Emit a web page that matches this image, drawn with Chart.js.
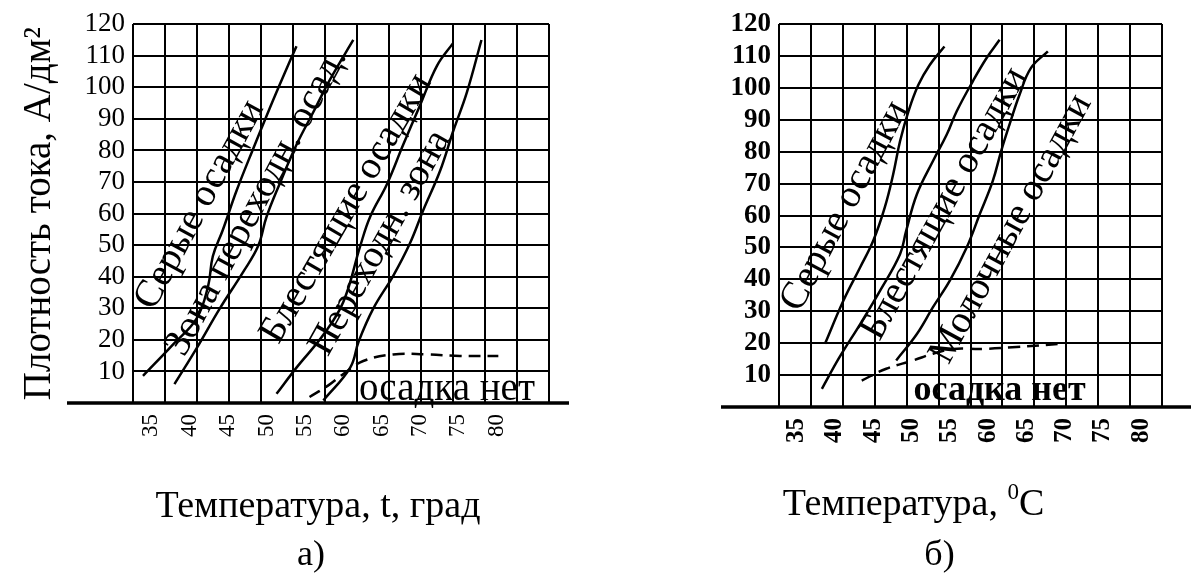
<!DOCTYPE html>
<html>
<head>
<meta charset="utf-8">
<script src="https://cdn.jsdelivr.net/npm/chart.js@4"></script>
<style>
  html, body { margin: 0; padding: 0; background: #fff; }
  #wrap { position: relative; width: 1191px; height: 573px; }
  canvas { position: absolute; top: 0; }
  #chartA { left: 0; }
  #chartB { left: 595px; }
</style>
</head>
<body>
<div id="wrap">
  <canvas id="chartA" width="595" height="573"></canvas>
  <canvas id="chartB" width="596" height="573"></canvas>
</div>
<script>
// tick labels
const xTicks = [35, 40, 45, 50, 55, 60, 65, 70, 75, 80];
const yTicks = [10, 20, 30, 40, 50, 60, 70, 80, 90, 100, 110, 120];

// chart a) - temperature (t) and current density (D) along each boundary
const aGreyT = [33.9, 37.8, 40.9, 42.4, 43.0, 44.3, 46.1, 48.3, 50.4, 52.2, 53.9];
const aGreyD = [8.6, 18.5, 26.8, 37.2, 46.5, 54.8, 67.3, 80.8, 93.3, 103.6, 113];
const aTransT = [38.0, 40.9, 43.9, 46.9, 48.9, 50.0, 51.7, 53.9, 56.1, 58.3, 61.3];
const aTransD = [6.0, 17.4, 29.9, 41.3, 49.7, 59, 69.4, 81.8, 92.2, 102.6, 115];
const aBrightT = [51.3, 53.9, 57.4, 60.0, 62.2, 63.5, 65.7, 67.8, 70.0, 72.2, 74.3];
const aBrightD = [2.9, 11.2, 21.6, 32, 49.7, 59, 69.4, 81.8, 94.3, 106.8, 114];
const aZoneT = [57.4, 60.9, 62.0, 63.9, 66.5, 68.7, 70.4, 72.6, 74.3, 76.1, 78.0];
const aZoneD = [0.8, 11.2, 19.5, 29.9, 40.3, 50.7, 61, 73.5, 86, 98.4, 115];
const aNoneT = [55.6, 58.0, 60.0, 62.6, 66.5, 70.8, 75.2, 80.2];
const aNoneD = [1.9, 5.5, 9.2, 13.3, 15.4, 15.4, 14.9, 14.9];

// chart б)
const bGreyT = [38.7, 41.1, 43.3, 45.0, 46.5, 47.6, 48.5, 49.6, 50.9, 52.4, 54.3];
const bGreyD = [19.8, 33.3, 43.8, 52.1, 62.5, 72.9, 83.3, 92.7, 101, 107.3, 113];
const bBrightT = [38.3, 40.6, 43.3, 45.9, 48.5, 49.3, 50.7, 52.8, 54.6, 55.9, 58.0, 59.8, 61.5];
const bBrightD = [5.7, 15.6, 26, 36.5, 47.9, 55.2, 66.7, 77.1, 85.4, 92.7, 102.1, 109.4, 115.1];
const bMilkT = [48.0, 50.7, 52.8, 55.0, 57.2, 58.9, 60.6, 61.7, 62.8, 64.1, 65.6, 67.8];
const bMilkD = [14.6, 22.9, 31.3, 39.6, 50, 60.4, 70.8, 80.2, 88.6, 97.9, 106.3, 111.5];
const bNoneT = [43.5, 46.7, 50.2, 52.8, 55.4, 59.3, 63.7, 69.6];
const bNoneD = [8.3, 12, 14.6, 16.7, 18.2, 18.2, 18.8, 19.8];

const serif = "'Liberation Serif', 'Times New Roman', 'DejaVu Serif', serif";
Chart.defaults.font.family = serif;
Chart.defaults.color = '#000';

function curve(ts, ds, dashed) {
  return {
    data: ts.map((t, i) => ({ x: t, y: ds[i] })),
    borderColor: '#000',
    borderWidth: 2.5,
    borderDash: dashed ? [12, 7] : [],
    pointRadius: 0,
    tension: 0.4,
    fill: false
  };
}

// long base line, words written along the curves, captions under the chart
const extras = {
  id: 'extras',
  afterDraw(chart, args, opts) {
    const { ctx, chartArea: area, scales: { x, y } } = chart;
    ctx.save();
    const y0 = y.getPixelForValue(0);
    ctx.strokeStyle = '#000';
    ctx.lineWidth = 3.5;
    ctx.beginPath();
    ctx.moveTo(area.left - opts.lineLeft, y0);
    ctx.lineTo(area.right + opts.lineRight, y0);
    ctx.stroke();

    ctx.fillStyle = '#000';
    ctx.textAlign = 'center';
    ctx.textBaseline = 'middle';
    opts.notes.forEach(n => {
      ctx.save();
      ctx.translate(x.getPixelForValue(n.t), y.getPixelForValue(n.d));
      ctx.rotate(n.angle * Math.PI / 180);
      ctx.font = n.font;
      ctx.fillText(n.text, 0, 0);
      ctx.restore();
    });

    // captions: pieces flagged 1 are set as superscript
    ctx.textBaseline = 'alphabetic';
    ctx.textAlign = 'left';
    const mid = (area.left + area.right) / 2;
    opts.captions.forEach(c => {
      const big = `${c.size}px ${serif}`;
      const small = `${Math.round(c.size * 0.6)}px ${serif}`;
      const widths = c.parts.map(([txt, sup]) => {
        ctx.font = sup ? small : big;
        return ctx.measureText(txt).width;
      });
      let cx = mid + c.dx - widths.reduce((a, b) => a + b, 0) / 2;
      c.parts.forEach(([txt, sup], i) => {
        ctx.font = sup ? small : big;
        ctx.fillText(txt, cx, sup ? c.y - c.size * 0.42 : c.y);
        cx += widths[i];
      });
    });
    ctx.restore();
  }
};

function options(cfg) {
  return {
    responsive: false,
    animation: false,
    layout: { padding: cfg.padding },
    plugins: {
      legend: { display: false },
      tooltip: { enabled: false },
      extras: cfg.extras
    },
    scales: {
      x: {
        type: 'linear',
        position: 'bottom',
        min: cfg.tMin,
        max: cfg.tMax,
        afterBuildTicks: s => { s.ticks = xTicks.map(v => ({ value: v })); },
        afterFit: s => { s.height = cfg.xHeight; },
        grid: { display: false },
        border: { display: false },
        ticks: { autoSkip: false, minRotation: 90, maxRotation: 90, padding: 3, font: cfg.xFont }
      },
      cols: {
        type: 'linear',
        position: 'top',
        min: 0,
        max: cfg.cols,
        afterFit: s => { s.height = 0; },
        ticks: { display: false, stepSize: 1, autoSkip: false },
        grid: { color: '#000', lineWidth: 2, drawTicks: false },
        border: { display: false }
      },
      y: {
        min: 0,
        max: 120,
        afterBuildTicks: s => { s.ticks = yTicks.map(v => ({ value: v })); },
        afterFit: s => { s.width = cfg.yWidth; },
        grid: { color: '#000', lineWidth: 2, drawTicks: false },
        border: { display: false },
        ticks: { autoSkip: false, padding: 8, font: cfg.yFont },
        title: cfg.yTitle
      }
    }
  };
}

new Chart(document.getElementById('chartA'), {
  type: 'line',
  data: {
    datasets: [
      curve(aGreyT, aGreyD),
      curve(aTransT, aTransD),
      curve(aBrightT, aBrightD),
      curve(aZoneT, aZoneD),
      curve(aNoneT, aNoneD, true)
    ]
  },
  plugins: [extras],
  options: options({
    padding: { top: 17, right: 46, left: 0, bottom: 0 },
    tMin: 32.6, tMax: 86.8, cols: 13,
    xHeight: 170, yWidth: 133,
    xFont: { size: 23 },
    yFont: { size: 27 },
    yTitle: { display: true, text: 'Плотность тока, А/дм²', font: { size: 39 }, padding: { top: 16 } },
    extras: {
      lineLeft: 66, lineRight: 20,
      notes: [
        { text: 'Серые осадки', t: 41.3, d: 62.8, angle: -61.5, font: `39px ${serif}` },
        { text: 'Зона переходн. осад.', t: 48.7, d: 63.7, angle: -61.7, font: `39px ${serif}` },
        { text: 'Блестящие осадки', t: 60.4, d: 61.6, angle: -59.8, font: `39px ${serif}` },
        { text: 'Переходн. зона', t: 64.8, d: 50.7, angle: -60.8, font: `39px ${serif}` },
        { text: 'осадка нет', t: 73.5, d: 4.3, angle: 0, font: `39px ${serif}` }
      ],
      captions: [
        { parts: [['Температура, t, град', 0]], dx: -23, y: 517, size: 38 },
        { parts: [['а)', 0]], dx: -30, y: 565, size: 36 }
      ]
    }
  })
});

new Chart(document.getElementById('chartB'), {
  type: 'line',
  data: {
    datasets: [
      curve(bGreyT, bGreyD),
      curve(bBrightT, bBrightD),
      curve(bMilkT, bMilkD),
      curve(bNoneT, bNoneD, true)
    ]
  },
  plugins: [extras],
  options: options({
    padding: { top: 23, right: 29, left: 0, bottom: 0 },
    tMin: 32.7, tMax: 82.7, cols: 12,
    xHeight: 166, yWidth: 184,
    xFont: { size: 25, weight: 'bold' },
    yFont: { size: 27, weight: 'bold' },
    yTitle: { display: false },
    extras: {
      lineLeft: 58, lineRight: 30,
      notes: [
        { text: 'Серые осадки', t: 41.3, d: 63, angle: -62, font: `39px ${serif}` },
        { text: 'Блестящие осадки', t: 54.3, d: 63.7, angle: -61, font: `39px ${serif}` },
        { text: 'Молочные осадки', t: 63.0, d: 55.8, angle: -61.5, font: `39px ${serif}` },
        { text: 'осадка нет', t: 61.5, d: 5.2, angle: 0, font: `bold 36px ${serif}` }
      ],
      captions: [
        { parts: [['Температура, ', 0], ['0', 1], ['C', 0]], dx: -57, y: 515, size: 38 },
        { parts: [['б)', 0]], dx: -31, y: 565, size: 36 }
      ]
    }
  })
});
</script>
</body>
</html>
